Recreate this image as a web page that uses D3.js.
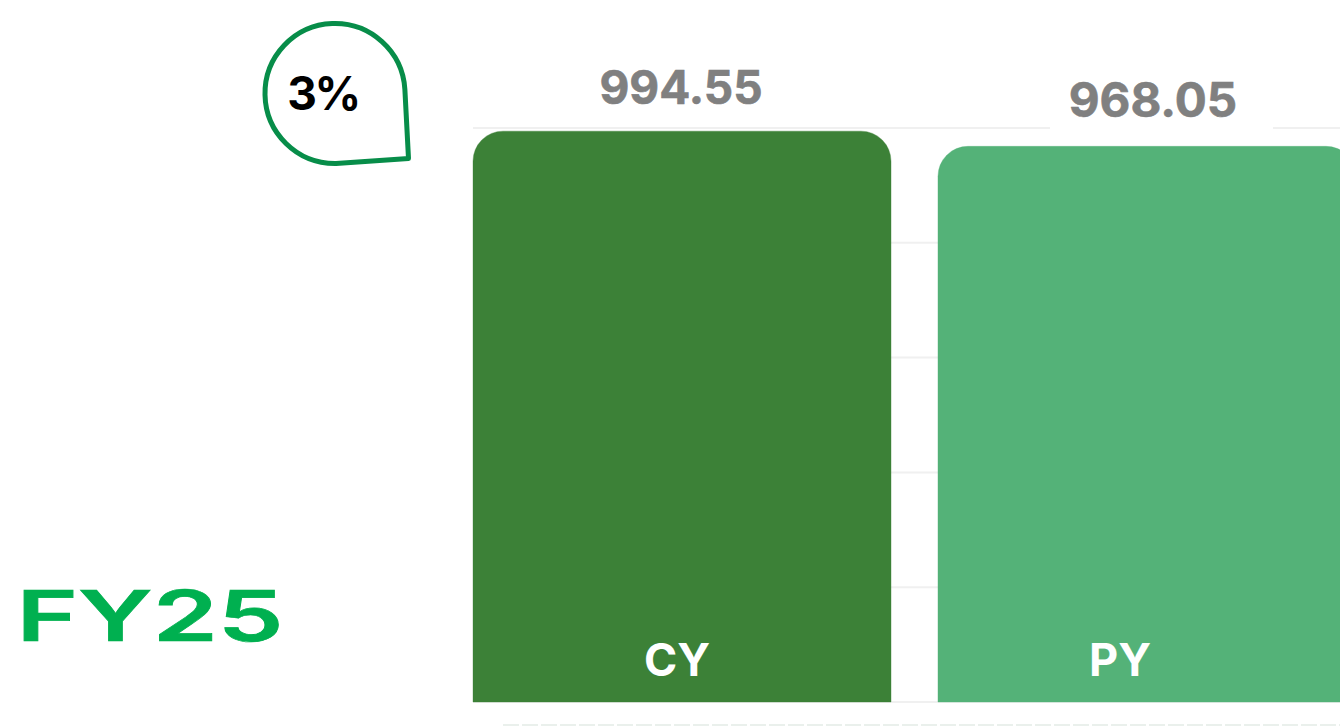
<!DOCTYPE html>
<html><head><meta charset="utf-8">
<script src="https://cdn.jsdelivr.net/npm/d3@7"></script>
<style>html,body{margin:0;padding:0;background:#fff;overflow:hidden}svg{display:block}text{font-family:Inter,"Noto Sans",sans-serif}</style>
</head><body><svg id="c" width="1340" height="726"></svg>
<script>
const categories = ["CY","PY"];
const values = [994.55,968.05];
const valueLabels = ["994.55","968.05"];
const colors = ["#3c8137","#54b278"];
const yTicks = [0,200,400,600,800,1000];
const changeLabel = "3%";
const periodLabel = "FY25";

const svg = d3.select("#c");
const x = d3.scaleBand().domain(categories).range([473,1356]).paddingInner(0.101);
const y = d3.scaleLinear().domain([0,1000]).range([702,128]);

svg.append("g").selectAll("line").data(yTicks).join("line")
  .attr("x1",473).attr("x2",1340).attr("y1",d=>y(d)).attr("y2",d=>y(d))
  .attr("stroke","#f0f0f0").attr("stroke-width",2);

svg.append("line").attr("x1",503).attr("x2",1340).attr("y1",725).attr("y2",725)
  .attr("stroke","#e4ebe6").attr("stroke-width",1.5).attr("stroke-dasharray","16 3");

const r = 30;
function barPath(d,i){
  const x0=x(categories[i]), x1=x0+x.bandwidth(), t=y(d), b=y(0);
  const p=d3.path();
  p.moveTo(x0,b); p.lineTo(x0,t+r); p.arcTo(x0,t,x0+r,t,r);
  p.lineTo(x1-r,t); p.arcTo(x1,t,x1,t+r,r); p.lineTo(x1,b); p.closePath();
  return p.toString();
}
svg.append("g").selectAll("path").data(values).join("path")
  .attr("d",barPath).attr("fill",(d,i)=>colors[i])
  .attr("stroke",(d,i)=>colors[i]).attr("stroke-opacity",0.35).attr("stroke-width",1);

// white plate behind the PY value label
svg.append("rect").attr("x",1050).attr("y",y(1000)-4).attr("width",223).attr("height",8).attr("fill","#fff");

const valueX=[681,1153], valueY=[104,117], valueSize=[46,47.5];
svg.append("g").selectAll("text").data(valueLabels).join("text")
  .attr("x",(d,i)=>valueX[i]).attr("y",(d,i)=>valueY[i])
  .attr("text-anchor","middle").attr("font-weight",700).attr("font-size",(d,i)=>valueSize[i])
  .attr("stroke","#808080").attr("stroke-width",0.6)
  .attr("fill","#808080").text(d=>d);

const catX=[677,1120];
svg.append("g").selectAll("text").data(categories).join("text")
  .attr("x",(d,i)=>catX[i]).attr("y",676)
  .attr("text-anchor","middle").attr("font-weight",700).attr("font-size",45)
  .attr("fill","#fff").text(d=>d);

// callout
const a=0.06, cx=335, cy=93.5, cr=70;
const cp=d3.path();
cp.moveTo(cx+cr*Math.cos(a),cy-cr*Math.sin(a));
cp.lineTo(408.5,158.5);
cp.lineTo(336,cy+cr);
cp.arc(cx,cy,cr,Math.PI/2,Math.PI*2-a,false);
cp.closePath();
svg.append("path").attr("d",cp.toString()).attr("fill","#fff")
  .attr("stroke","#078d49").attr("stroke-width",5).attr("stroke-linejoin","round");
svg.append("text").attr("x",323).attr("y",109.5).attr("text-anchor","middle")
  .attr("font-weight",700).attr("font-size",46).attr("letter-spacing",-2.5).attr("fill","#000").text(changeLabel);

// period label, stretched wide
svg.append("text").attr("transform","translate(16.5,641) scale(1.495,1)")
  .attr("font-weight",600).attr("font-size",70).attr("stroke","#00b050").attr("stroke-width",0.7)
  .attr("fill","#00b050").text(periodLabel);
</script></body></html>
